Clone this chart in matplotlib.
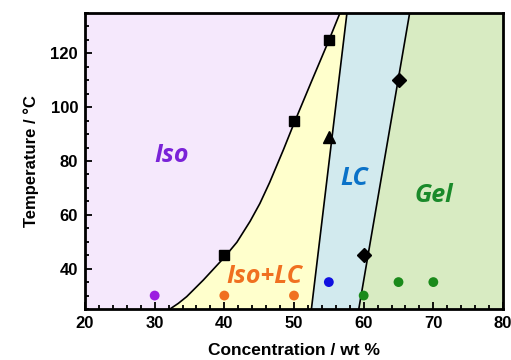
import numpy as np
import matplotlib.pyplot as plt
from matplotlib.ticker import MultipleLocator

# boundary lines (conc wt%, temperature C)
iso_conc = [32.2, 33.4, 34.6, 37.0, 40.0, 41.8, 43.7, 45.1, 46.5, 48.5, 50.0, 52.5, 55.0, 56.6]
iso_temp = [25.0, 27.1, 29.6, 35.8, 44.2, 49.8, 57.6, 64.2, 72.0, 84.3, 94.0, 109.5, 124.8, 135.0]
lc_conc = [52.5, 57.6]
lc_temp = [25.0, 135.0]
gel_conc = [59.3, 66.6]
gel_temp = [25.0, 135.0]

# measured transition points
sq_x, sq_y = [40, 50, 55], [45, 95, 125]
tri_x, tri_y = [55], [89]
dia_x, dia_y = [60, 65], [45, 110]

# sample dots
dots_x = [30, 40, 50, 55, 60, 65, 70]
dots_y = [30, 30, 30, 35, 30, 35, 35]
dots_c = ['#9b1fe0', '#f07020', '#f07020', '#1010e0', '#1a8a1a', '#1a8a1a', '#1a8a1a']

region_names = ['Iso', 'Iso+LC', 'LC', 'Gel']
region_x = [32.5, 45.8, 58.7, 70.1]
region_y = [82, 37, 73.5, 67.3]
region_c = ['#7a22d8', '#f07020', '#0a72c8', '#1a8a2a']

fig = plt.figure(figsize=(5.11, 3.6), dpi=100)
ax = fig.add_axes([85/511, 1-309/360, 418/511, 296/360])
xmin, xmax, ymin, ymax = 20, 80, 25, 135

# shaded regions
ax.fill([xmin] + iso_conc + [xmin], [ymin] + iso_temp + [ymax],
        color='#f5e8fc', lw=0, zorder=0)
ax.fill(iso_conc + lc_conc[::-1], iso_temp + lc_temp[::-1], color='#ffffcc', lw=0, zorder=0)
ax.fill(lc_conc + gel_conc[::-1], lc_temp + gel_temp[::-1], color='#d2eaee', lw=0, zorder=0)
ax.fill(gel_conc + [xmax, xmax], gel_temp + [ymax, ymin], color='#d8ebc2', lw=0, zorder=0)

for cx, ty in [(iso_conc, iso_temp), (lc_conc, lc_temp), (gel_conc, gel_temp)]:
    ax.plot(cx, ty, color='black', lw=1.2, zorder=2)

ax.plot(sq_x, sq_y, 's', color='black', ms=7.5, zorder=3)
ax.plot(tri_x, tri_y, '^', color='black', ms=9, zorder=3)
ax.plot(dia_x, dia_y, 'D', color='black', ms=7.5, zorder=3)
ax.scatter(dots_x, dots_y, c=dots_c, s=50, zorder=3, linewidths=0)

for name, x, y, c in zip(region_names, region_x, region_y, region_c):
    ax.text(x, y, name, color=c, fontsize=18, fontweight='bold', fontstyle='italic',
            family='Open Sans', ha='center', va='center', zorder=4)

ax.set_xlim(xmin, xmax)
ax.set_ylim(ymin, ymax)
ax.xaxis.set_major_locator(MultipleLocator(10))
ax.xaxis.set_minor_locator(MultipleLocator(2))
ax.yaxis.set_minor_locator(MultipleLocator(5))
ax.set_yticks([40, 60, 80, 100, 120])
ax.tick_params(which='both', direction='in', top=False, right=False, width=1.3)
ax.tick_params(which='major', length=5, labelsize=12, pad=5)
ax.tick_params(which='minor', length=3)
for lab in ax.get_xticklabels() + ax.get_yticklabels():
    lab.set_fontweight('bold')
    lab.set_family('Liberation Sans')
for s in ax.spines.values():
    s.set_linewidth(2)

ax.set_xlabel('Concentration / wt %', fontsize=12.5, fontweight='bold', family='Liberation Sans', labelpad=9)
ax.set_ylabel('Temperature / \u00b0C', fontsize=12, fontweight='bold', family='Liberation Sans', labelpad=8)

fig.savefig('out.png', dpi=100)
